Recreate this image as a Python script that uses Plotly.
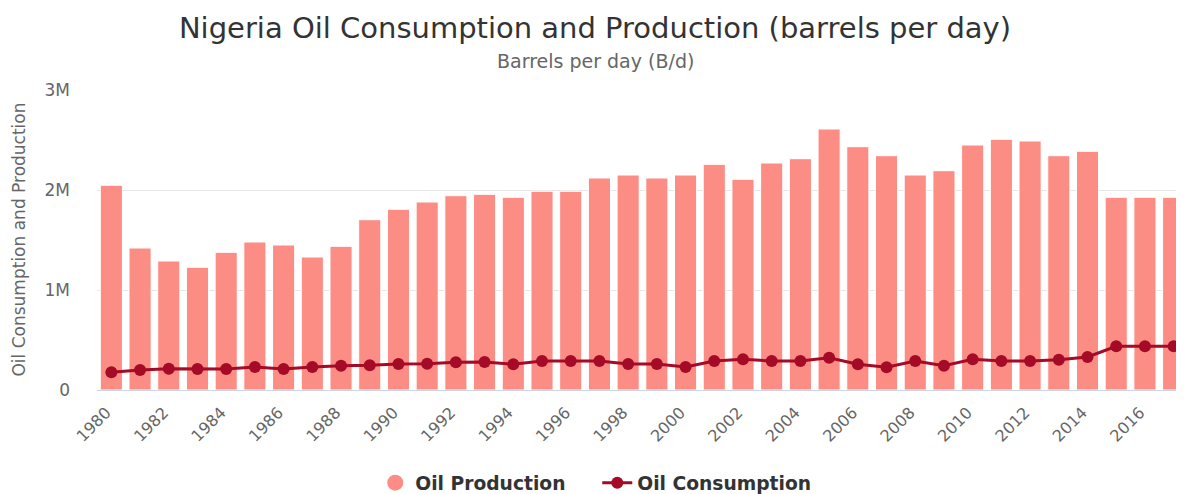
import plotly.graph_objects as go

years = [str(y) for y in range(1980, 2018)]
production = [2.047, 1.42, 1.29, 1.227, 1.377, 1.48, 1.45, 1.33, 1.437, 1.703,
              1.807, 1.88, 1.943, 1.957, 1.927, 1.987, 1.987, 2.12, 2.15, 2.12,
              2.15, 2.257, 2.107, 2.27, 2.313, 2.61, 2.433, 2.343, 2.15, 2.193,
              2.45, 2.507, 2.49, 2.343, 2.387, 1.927, 1.927, 1.927]
consumption = [0.177, 0.20, 0.213, 0.21, 0.21, 0.23, 0.21, 0.23, 0.243, 0.247,
               0.26, 0.263, 0.277, 0.28, 0.257, 0.29, 0.29, 0.29, 0.26, 0.26,
               0.23, 0.29, 0.307, 0.29, 0.29, 0.323, 0.257, 0.228, 0.29, 0.243,
               0.307, 0.29, 0.29, 0.303, 0.33, 0.437, 0.437, 0.437]
production = [v * 1e6 for v in production]
consumption = [v * 1e6 for v in consumption]

tick_years = years[::2]
ytick_vals = [0, 1e6, 2e6, 3e6]
ytick_text = ["0", "1M", "2M", "3M"]

BAR = "#fc8d85"
LINE = "#a50a26"
FONT = "DejaVu Sans"

# page has an 8px body margin; layout values below compensate for it
OFF = 8
W, H = 1184, 494
PL, PR, PT, PB = 96.5, 1188, 90, 390   # plot area in page pixels
PW, PH = PR - PL, PB - PT

fig = go.Figure()
fig.add_trace(go.Bar(x=years, y=production, name="Oil Production",
                     marker=dict(color=BAR, line=dict(color="white", width=1)),
                     showlegend=False))
fig.add_trace(go.Scatter(x=[None], y=[None], mode="markers", name="Oil Production",
                         marker=dict(color=BAR, size=18, symbol="circle")))
fig.add_trace(go.Scatter(x=years, y=consumption, name="Oil Consumption",
                         mode="lines+markers",
                         line=dict(color=LINE, width=3),
                         marker=dict(color=LINE, size=12)))

fig.update_layout(
    width=W, height=H,
    margin=dict(l=PL - OFF, r=W - (PR - OFF), t=PT - OFF, b=H - (PB - OFF),
                autoexpand=False),
    paper_bgcolor="white", plot_bgcolor="white",
    font=dict(family=FONT, color="#666666"),
    bargap=0.23,
    title=dict(text="Nigeria Oil Consumption and Production (barrels per day)",
               x=(595 - OFF) / W, xref="container", xanchor="center",
               y=1 - (28 - OFF) / H, yref="container", yanchor="middle",
               font=dict(size=29, color="#333333", family=FONT)),
    showlegend=True,
    legend=dict(orientation="h", x=(597 - PL) / PW, xref="paper", xanchor="center",
                y=(PB - 483) / PH, yref="paper", yanchor="middle",
                font=dict(size=18.7, color="#333333", family=FONT, weight="bold"),
                itemsizing="trace", traceorder="normal", tracegroupgap=0,
                itemwidth=30, entrywidth=177, entrywidthmode="pixels"),
    xaxis=dict(type="category", range=[-0.5, 37.5], tickmode="array",
               tickvals=tick_years, ticktext=tick_years, tickangle=-45,
               tickfont=dict(size=16, color="#666666"),
               ticklabelshift=-5, ticklabelstandoff=6,
               showgrid=False, showline=True, linecolor="#ccd6eb", linewidth=1,
               ticks="", automargin=False),
    yaxis=dict(range=[0, 3e6], tickmode="array", tickvals=ytick_vals,
               ticktext=ytick_text, tickfont=dict(size=17, color="#666666"),
               showgrid=True, gridcolor="#e6e6e6", gridwidth=1,
               zeroline=False, showline=False, ticks="", ticklabelstandoff=26,
               automargin=False),
    annotations=[
        dict(text="Barrels per day (B/d)", xref="paper", yref="paper",
             x=(595 - PL) / PW, y=(PB - 61) / PH, xanchor="center",
             yanchor="middle", showarrow=False,
             font=dict(size=19, color="#666666", family=FONT)),
        dict(text="Oil Consumption and Production", xref="paper", yref="paper",
             x=(18 - PL) / PW, y=(PB - 240) / PH, xanchor="center", yanchor="middle",
             textangle=-90, showarrow=False,
             font=dict(size=17, color="#666666", family=FONT)),
    ],
)

fig.write_html("out.html")
